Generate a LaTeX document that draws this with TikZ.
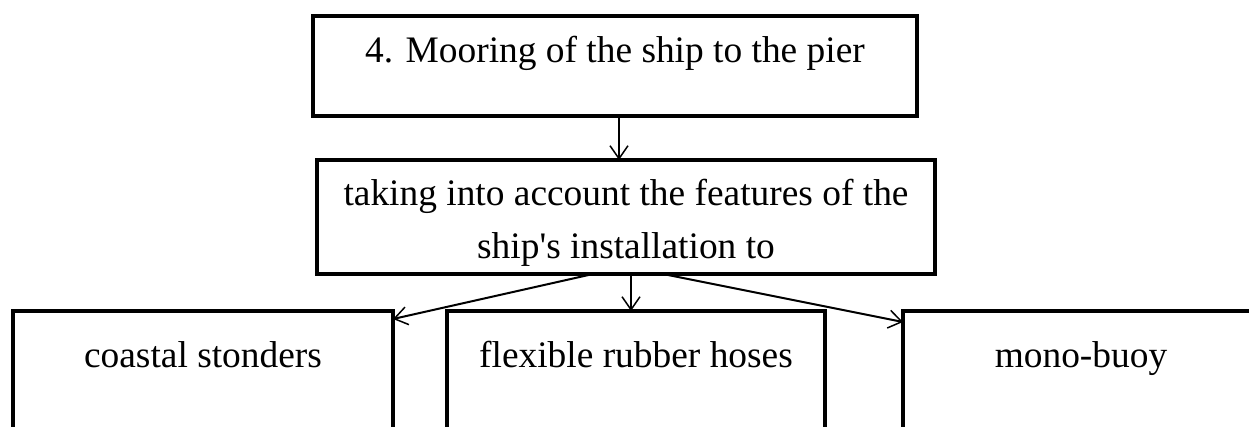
\documentclass[tikz,border=0pt]{standalone}
\usepackage{fontspec}
\setmainfont{Liberation Serif}[Ligatures=TeXOff]
\usetikzlibrary{arrows.meta}
\begin{document}
\begin{tikzpicture}[x=1pt,y=-1pt,
  box/.style={draw, line width=4.5pt, inner sep=0pt, outer sep=0pt, anchor=north west,
    font=\fontsize{37.4}{53}\selectfont},
  conn/.style={line width=1.5pt, -{Straight Barb[length=13pt,width=18pt,line width=1.5pt]}},
  diag/.style={conn, line width=2pt},
]
\clip (0,0) rectangle (1249,426);
\fill[white] (0,0) rectangle (1249,426);
\node[box, minimum width=604pt, text height=46pt, text depth=54pt] (top) at (313,16)
  {4. Mooring of the ship to the pier};
\node[box, minimum width=618pt, text height=45pt, text depth=69pt] (mid) at (317,160)
  {\begin{tabular}[t]{@{}c@{}}taking into account the features of the\\ ship's installation to\end{tabular}};
\node[box, minimum width=380pt, text height=56pt, text depth=100pt] (coast) at (13,311)
  {coastal stonders};
\node[box, minimum width=378pt, text height=56pt, text depth=100pt] (flex) at (447,311)
  {flexible rubber hoses};
\node[box, minimum width=356pt, text height=56pt, text depth=100pt] (mono) at (903,311)
  {mono-buoy};
\draw[conn] ([xshift=4pt]top.south) -- ([xshift=4pt]top.south |- mid.north);
\draw[conn] ([xshift=5pt]mid.south) -- ([xshift=5pt]mid.south |- flex.north);
\draw[diag] ([xshift=-33pt]mid.south) -- ([yshift=-8pt]coast.north east);
\draw[diag] ([xshift=37pt]mid.south) -- ([yshift=-11pt]mono.north west);
\end{tikzpicture}
\end{document}
